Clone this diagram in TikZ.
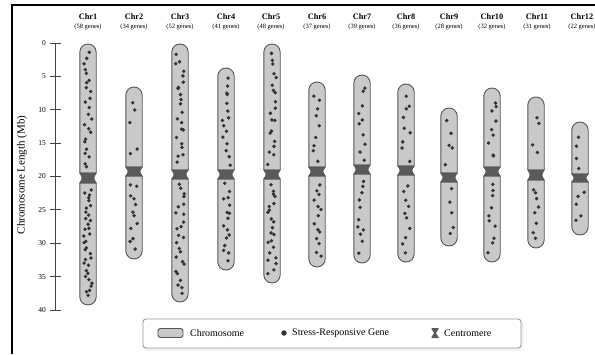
\documentclass[tikz,border=0pt]{standalone}
\usepackage{fontspec}
\setmainfont{Liberation Serif}
\usetikzlibrary{calc}
\definecolor{chrfill}{HTML}{C9C9C9}
\definecolor{chredge}{HTML}{555555}
\definecolor{cenfill}{HTML}{5A5A5A}
\definecolor{genefill}{HTML}{333333}
\definecolor{axiscol}{HTML}{444444}
\definecolor{legedge}{HTML}{9A9A9A}

% #1 x centre, #2 top, #3 bottom, #4 centromere top, #5 centromere bottom,
% #6 genes on upper arm, #7 genes on lower arm, #8 random seed
\newcommand\drawchrom[8]{%
  \def\hw{8.2}%
  % upper arm
  \draw[chrbody] (#1-\hw,#4) -- (#1-\hw,#2+\hw)
     arc[start angle=180,end angle=0,radius=\hw pt] -- (#1+\hw,#4) -- cycle;
  % lower arm
  \draw[chrbody] (#1-\hw,#5) -- (#1+\hw,#5) -- (#1+\hw,#3-\hw)
     arc[start angle=0,end angle=-180,radius=\hw pt] -- cycle;
  % centromere constriction
  \draw[cenband] (#1-\hw,#4) -- (#1+\hw,#4)
     .. controls (#1+\hw-3,{(#4+#5)/2}) .. (#1+\hw,#5)
     -- (#1-\hw,#5)
     .. controls (#1-\hw+3,{(#4+#5)/2}) .. (#1-\hw,#4) -- cycle;
  % stress-responsive genes, spread evenly along each arm with jitter
  \pgfmathsetseed{#8}%
  \foreach \k in {1,...,#6}{%
    \pgfmathsetmacro\gx{#1+(rnd-0.5)*8.5}%
    \pgfmathsetmacro\gy{#2+8+(\k-rnd)*(#4-#2-12)/#6}%
    \fill[gene] (\gx,\gy) circle[radius=1.9pt];}%
  \foreach \k in {1,...,#7}{%
    \pgfmathsetmacro\gx{#1+(rnd-0.5)*8.5}%
    \pgfmathsetmacro\gy{#5+4+(\k-rnd)*(#3-#5-12)/#7}%
    \fill[gene] (\gx,\gy) circle[radius=1.9pt];}%
}

\begin{document}
\begin{tikzpicture}[x=1pt,y=-1pt,
  chrbody/.style={fill=chrfill,draw=chredge,line width=0.9pt},
  cenband/.style={fill=cenfill,draw=chredge,line width=0.7pt},
  gene/.style={fill=genefill},
  chrname/.style={font=\bfseries\fontsize{8.3}{9}\selectfont,inner sep=0pt},
  chrcount/.style={font=\fontsize{6.5}{7}\selectfont,inner sep=0pt},
  ticklab/.style={font=\fontsize{7.5}{8}\selectfont,anchor=east,inner sep=0pt},
  legtext/.style={font=\fontsize{10}{11}\selectfont,anchor=west,inner sep=0pt},
  axisline/.style={draw=axiscol,line width=0.9pt}]
\useasboundingbox (0,0) rectangle (595,354);

% outer frame
\coordinate (fbl) at (12,354);
\coordinate (ftl) at (12,5);
\coordinate (ftr) at (595,5);
\draw[line width=1.8pt] (fbl) -- (ftl) -- (ftr);

% length axis
\coordinate (axtop) at (55,43);
\coordinate (axbot) at (55,310);
\draw[axisline] (axtop) -- (axbot);
\foreach \v in {0,5,...,40}{
  \pgfmathsetmacro\ty{43+\v*267/40}
  \coordinate (tl\v) at (50,\ty);
  \coordinate (tr\v) at (61,\ty);
  \draw[axisline] (tl\v) -- (tr\v);
  \node[ticklab] (lab\v) at (46,\ty) {\v};
}
\node[font=\fontsize{11}{12}\selectfont,rotate=90] (ylab) at (22,175) {Chromosome Length (Mb)};

% chromosomes
\drawchrom{88}{44}{305}{173}{183}{24}{34}{11}
\drawchrom{134}{87}{259}{167}{176}{5}{12}{12}
\drawchrom{180}{44}{302}{170}{179}{22}{25}{13}
\drawchrom{226}{68}{270}{170}{179}{15}{16}{14}
\drawchrom{272}{44}{283}{170}{179}{20}{22}{15}
\drawchrom{317}{82}{267}{167}{176}{9}{14}{16}
\drawchrom{362}{75}{263}{165}{174}{10}{11}{17}
\drawchrom{406}{84}{262}{166}{175}{9}{10}{18}
\drawchrom{449}{108}{246}{173}{182}{5}{5}{19}
\drawchrom{492}{88}{262}{167}{176}{9}{10}{20}
\drawchrom{536}{97}{248}{170}{180}{4}{8}{21}
\drawchrom{580}{122}{235}{174}{182}{4}{5}{22}

% chromosome headers
\foreach \i/\x/\g in {1/88/58,2/134/34,3/180/52,4/226/41,5/271/48,6/317/37,
                      7/362/39,8/406/36,9/449/28,10/492/32,11/537/31,12/582/22}{
  \node[chrname] (chr\i) at (\x,17) {Chr\i};
  \node[chrcount] (cnt\i) at (\x,27) {(\g\ genes)};
}

% legend
\draw[legedge,line width=3pt,opacity=0.15,rounded corners=3pt] (144,321) rectangle (522,349);
\node[draw=legedge,line width=0.9pt,fill=white,rounded corners=3pt,
      minimum width=378pt,minimum height=29pt,inner sep=0pt] (legend) at (332,333.5) {};
\node[chrbody,rounded corners=2.5pt,minimum width=25pt,minimum height=9pt,inner sep=0pt]
     (legchr) at (170.5,333) {};
\node[legtext] (legchrtxt) at (190,333) {Chromosome};
\node[gene,circle,minimum size=5.5pt,inner sep=0pt] (leggene) at (284,333) {};
\node[legtext] (leggenetxt) at (292,333) {Stress-Responsive Gene};
\coordinate (legcen) at (435,333);
\fill[cenfill] ($(legcen)+(-3.5,-5)$) -- ($(legcen)+(3.5,-5)$) -- ($(legcen)+(3.5,-4)$)
  -- ($(legcen)+(1,0)$) -- ($(legcen)+(3.5,4)$) -- ($(legcen)+(3.5,5)$)
  -- ($(legcen)+(-3.5,5)$) -- ($(legcen)+(-3.5,4)$) -- ($(legcen)+(-1,0)$)
  -- ($(legcen)+(-3.5,-4)$) -- cycle;
\node[legtext] (legcentxt) at (444,333) {Centromere};
\end{tikzpicture}
\end{document}
